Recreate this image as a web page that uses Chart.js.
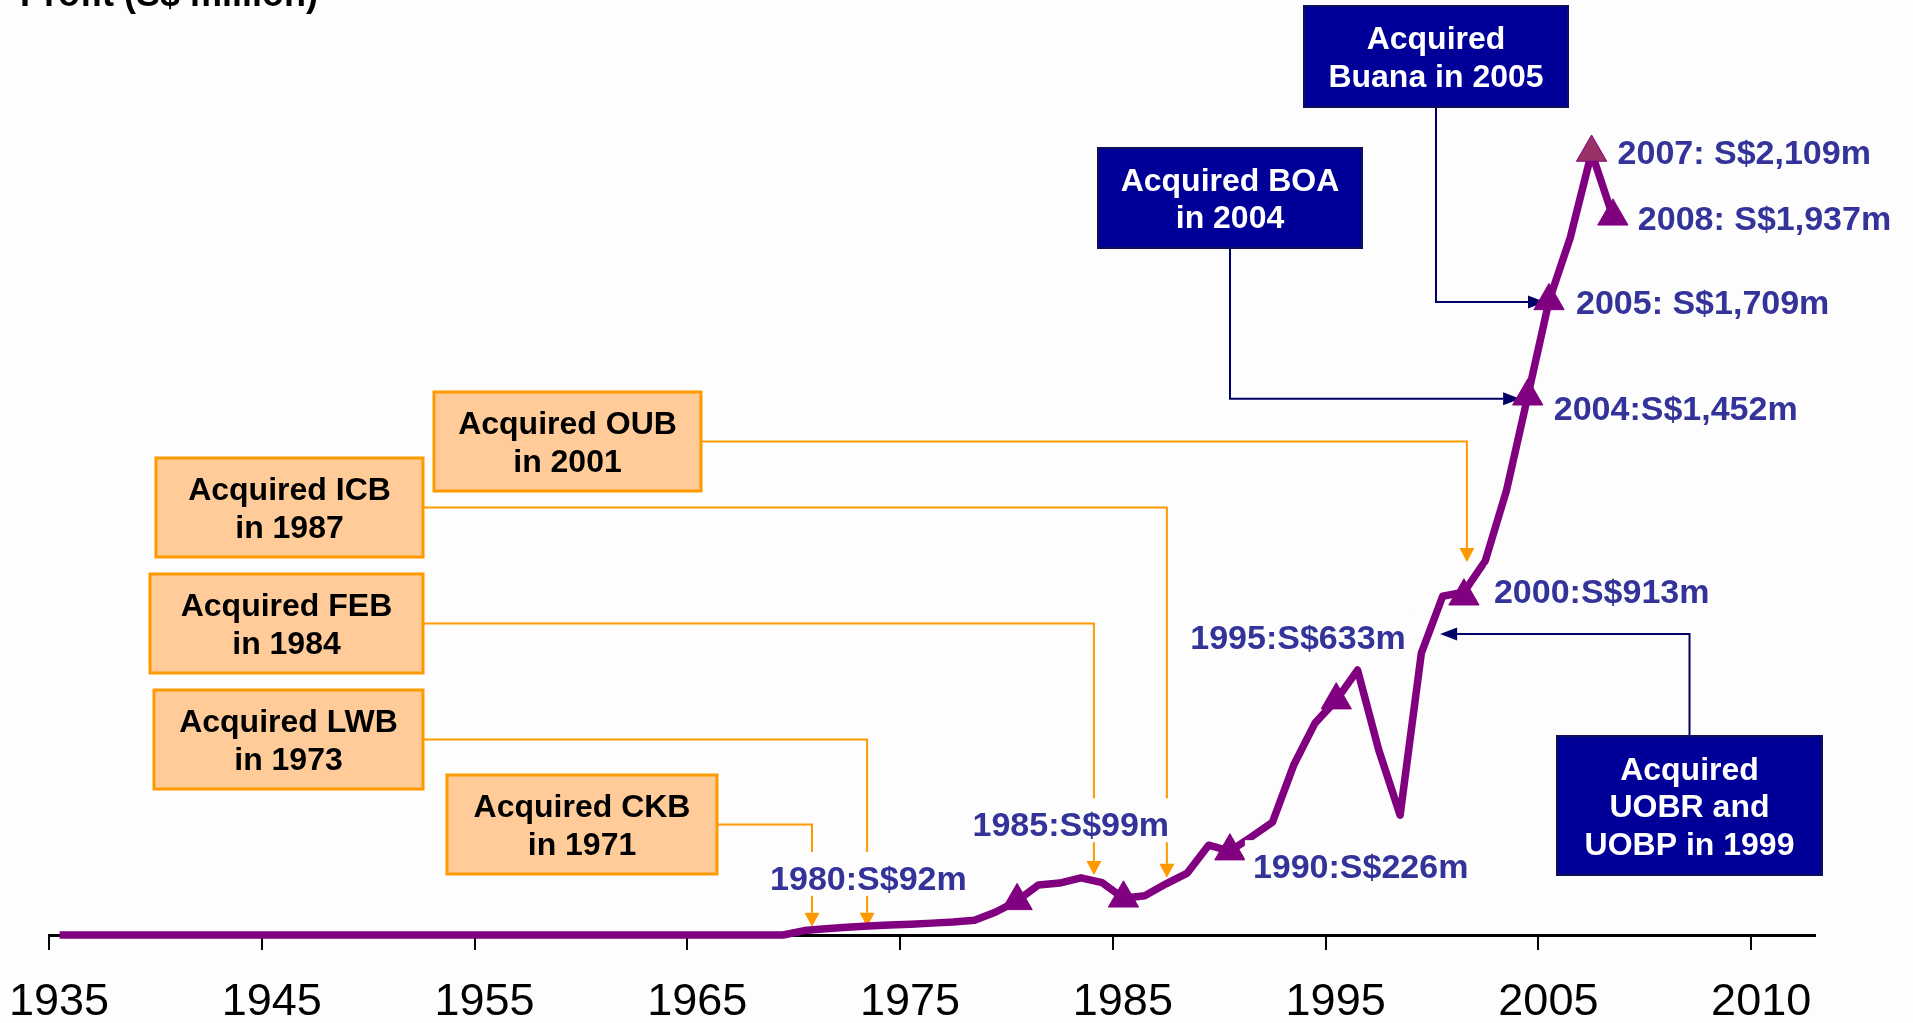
<!DOCTYPE html>
<html>
<head>
<meta charset="utf-8">
<title>Profit (S$ million)</title>
<script src="https://cdn.jsdelivr.net/npm/chart.js@4.4.1/dist/chart.umd.min.js"></script>
<style>
  html, body { margin: 0; padding: 0; background: #fdfdfd; }
  #wrap { position: relative; width: 1913px; height: 1023px; }
</style>
</head>
<body>
<div id="wrap"><canvas id="profit-chart" width="1913" height="1023"></canvas></div>
<script>
// yearly profit, S$ million
const years = [
  1935, 1936, 1937, 1938, 1939, 1940, 1941, 1942, 1943, 1944,
  1945, 1946, 1947, 1948, 1949, 1950, 1951, 1952, 1953, 1954,
  1955, 1956, 1957, 1958, 1959, 1960, 1961, 1962, 1963, 1964,
  1965, 1966, 1967, 1968, 1969, 1970, 1971, 1972, 1973, 1974,
  1975, 1976, 1977, 1978, 1979, 1980, 1981, 1982, 1983, 1984,
  1985, 1986, 1987, 1988, 1989, 1990, 1991, 1992, 1993, 1994,
  1995, 1996, 1997, 1998, 1999, 2000, 2001, 2002, 2003, 2004,
  2005, 2006, 2007, 2008
];
const profit = [
  0, 0, 0, 0, 0, 0, 0, 0, 0, 0,
  0, 0, 0, 0, 0, 0, 0, 0, 0, 0,
  0, 0, 0, 0, 0, 0, 0, 0, 0, 0,
  0, 0, 0, 0, 0, 12, 17, 21, 24, 27,
  29, 32, 35, 40, 62, 92, 135, 140, 154, 141,
  99, 106, 138, 167, 242, 226, 264, 304, 458, 571,
  633, 714, 498, 323, 760, 913, 924, 1008, 1198, 1452,
  1709, 1880, 2109, 1937
];

// highlighted years (triangles) and their callouts
const markerYears = [1980, 1985, 1990, 1995, 2001, 2004, 2005, 2007, 2008];
const markerProfit = [92, 99, 226, 633, 913, 1452, 1709, 2109, 1937];
const markerLabels = [
  '1980:S$92m', '1985:S$99m', '1990:S$226m', '1995:S$633m', '2000:S$913m',
  '2004:S$1,452m', '2005: S$1,709m', '2007: S$2,109m', '2008: S$1,937m'
];

const tickYears = [1935, 1945, 1955, 1965, 1975, 1985, 1995, 2005, 2015];
const tickLabels = ['1935', '1945', '1955', '1965', '1975', '1985', '1995', '2005', '2010'];

const FONT = '"Liberation Sans", Arial, sans-serif';
const BG = '#fdfdfd';

// label offsets from marker, in px
const labelOffsets = [[-247, -23], [-151, -74], [23, 15], [-146, -63], [30, -5], [26, 12], [27, 1], [26, 0], [25, 2]];

// acquisition callouts: box in px, arrow target in data units
const acquisitions = [
  { lines: ['Acquired OUB', 'in 2001'], box: [434, 392, 267, 99], kind: 'orange', route: 'right', target: [2001.64, 1005] },
  { lines: ['Acquired ICB', 'in 1987'], box: [156, 458, 267, 99], kind: 'orange', route: 'right', target: [1987.54, 154] },
  { lines: ['Acquired FEB', 'in 1984'], box: [150, 574, 273, 99], kind: 'orange', route: 'right', target: [1984.11, 162] },
  { lines: ['Acquired LWB', 'in 1973'], box: [154, 690, 269, 99], kind: 'orange', route: 'right', target: [1973.45, 22] },
  { lines: ['Acquired CKB', 'in 1971'], box: [447, 775, 270, 99], kind: 'orange', route: 'right', target: [1970.86, 22] },
  { lines: ['Acquired BOA', 'in 2004'], box: [1098, 148, 264, 100], kind: 'navy', route: 'down', target: [2004.14, 1445] },
  { lines: ['Acquired', 'Buana in 2005'], box: [1304, 6, 264, 101], kind: 'navy', route: 'down', target: [2005.31, 1706] },
  { lines: ['Acquired', 'UOBR and', 'UOBP in 1999'], box: [1557, 736, 265, 139], kind: 'navy', route: 'up', target: [2000.38, 811] }
];

function arrowPath(ctx, pts, headLen, headHalf) {
  const n = pts.length;
  const [tx, ty] = pts[n - 1];
  const [px, py] = pts[n - 2];
  const len = Math.hypot(tx - px, ty - py);
  const ux = (tx - px) / len, uy = (ty - py) / len;
  ctx.beginPath();
  ctx.moveTo(pts[0][0], pts[0][1]);
  for (let i = 1; i < n - 1; i++) ctx.lineTo(pts[i][0], pts[i][1]);
  ctx.lineTo(tx - ux * headLen, ty - uy * headLen);
  ctx.stroke();
  ctx.beginPath();
  ctx.moveTo(tx, ty);
  ctx.lineTo(tx - ux * headLen - uy * headHalf, ty - uy * headLen + ux * headHalf);
  ctx.lineTo(tx - ux * headLen + uy * headHalf, ty - uy * headLen - ux * headHalf);
  ctx.closePath();
  ctx.fill();
}

const calloutPlugin = {
  id: 'callouts',
  beforeDatasetsDraw(chart) {
    const { ctx, scales: { x, y } } = chart;
    ctx.save();
    ctx.lineWidth = 2;
    acquisitions.forEach(a => {
      const [bx, by, bw, bh] = a.box;
      const tx = x.getPixelForValue(a.target[0]);
      const ty = y.getPixelForValue(a.target[1]);
      let pts;
      if (a.route === 'right') {
        const my = by + bh / 2;
        pts = [[bx + bw, my], [tx, my], [tx, ty]];
      } else if (a.route === 'down') {
        const mx = bx + bw / 2;
        pts = [[mx, by + bh], [mx, ty], [tx, ty]];
      } else {
        const mx = bx + bw / 2;
        pts = [[mx, by], [mx, ty], [tx, ty]];
      }
      const col = a.kind === 'orange' ? '#FF9900' : '#000066';
      ctx.strokeStyle = col;
      ctx.fillStyle = col;
      if (a.kind === 'orange') arrowPath(ctx, pts, 14, 7.5);
      else arrowPath(ctx, pts, 17, 6.5);
    });
    ctx.restore();
  },
  afterDatasetsDraw(chart) {
    const { ctx, scales: { x, y } } = chart;
    ctx.save();
    // acquisition boxes
    acquisitions.forEach(a => {
      const [bx, by, bw, bh] = a.box;
      if (a.kind === 'orange') {
        ctx.fillStyle = '#FFCC99';
        ctx.strokeStyle = '#FF9900';
        ctx.lineWidth = 3;
      } else {
        ctx.fillStyle = '#000099';
        ctx.strokeStyle = '#10105a';
        ctx.lineWidth = 2;
      }
      ctx.fillRect(bx, by, bw, bh);
      ctx.strokeRect(bx, by, bw, bh);
      ctx.font = 'bold 32px ' + FONT;
      ctx.textAlign = 'center';
      ctx.textBaseline = 'alphabetic';
      ctx.fillStyle = a.kind === 'orange' ? '#000000' : '#ffffff';
      const cap = 23, gap = 37.5;
      const first = by + bh / 2 - ((a.lines.length - 1) * gap + cap) / 2 + cap;
      a.lines.forEach((t, i) => ctx.fillText(t, bx + bw / 2, first + i * gap));
    });
    // value callouts next to the triangles
    ctx.font = 'bold 34px ' + FONT;
    ctx.textAlign = 'left';
    ctx.textBaseline = 'alphabetic';
    markerYears.forEach((yr, i) => {
      const px = x.getPixelForValue(yr + 0.5) + labelOffsets[i][0];
      const cy = y.getPixelForValue(markerProfit[i]) + labelOffsets[i][1];
      const w = ctx.measureText(markerLabels[i]).width;
      ctx.fillStyle = BG;
      ctx.fillRect(px - 8, cy - 26, w + 16, 44);
      ctx.fillStyle = '#333399';
      ctx.fillText(markerLabels[i], px, cy + 12);
    });
    ctx.restore();
  },
  afterDraw(chart) {
    const { ctx } = chart;
    ctx.save();
    ctx.font = 'bold 36px ' + FONT;
    ctx.fillStyle = '#000000';
    ctx.textAlign = 'left';
    ctx.textBaseline = 'alphabetic';
    ctx.fillText('Profit (S$ million)', 20, 6);
    ctx.restore();
  }
};

const ctx = document.getElementById('profit-chart').getContext('2d');
new Chart(ctx, {
  data: {
    datasets: [
      {
        type: 'scatter',
        label: 'Highlights',
        order: 0,
        data: markerYears.map((yr, i) => ({ x: yr + 0.5, y: markerProfit[i] })),
        pointStyle: 'triangle',
        pointRadius: 17.5,
        pointHoverRadius: 17.5,
        backgroundColor: markerYears.map(yr => (yr === 2007 ? '#993366' : '#800080')),
        borderColor: '#800080',
        borderWidth: 1,
      },
      {
        type: 'line',
        label: 'Profit',
        order: 1,
        data: years.map((yr, i) => ({ x: yr + 0.5, y: profit[i] })),
        borderColor: '#800080',
        borderWidth: 7.5,
        borderJoinStyle: 'round',
        pointRadius: 0,
        tension: 0,
        fill: false,
        clip: false,
      },
    ],
  },
  options: {
    responsive: false,
    animation: false,
    devicePixelRatio: 1,
    layout: { autoPadding: false, padding: { left: 49, right: 98, top: 0, bottom: 0 } },
    plugins: {
      legend: { display: false },
      tooltip: { enabled: false },
    },
    scales: {
      x: {
        type: 'linear',
        min: 1935,
        max: 2018,
        afterBuildTicks: (scale) => {
          scale.ticks = tickYears.map(v => ({ value: v }));
        },
        afterFit: (scale) => {
          scale.height = 88;
          scale.paddingLeft = 0;
          scale.paddingRight = 0;
        },
        ticks: {
          autoSkip: false,
          maxRotation: 0,
          padding: 26,
          labelOffset: 10,
          color: '#000000',
          font: { family: FONT, size: 45 },
          callback: (value) => tickLabels[tickYears.indexOf(value)],
        },
        grid: {
          drawOnChartArea: false,
          drawTicks: true,
          tickLength: 15,
          color: '#000000',
          lineWidth: 2,
        },
        border: { display: true, color: '#000000', width: 3 },
      },
      y: {
        display: false,
        min: 0,
        max: 2520,
      },
    },
  },
  plugins: [calloutPlugin],
});
</script>
</body>
</html>
